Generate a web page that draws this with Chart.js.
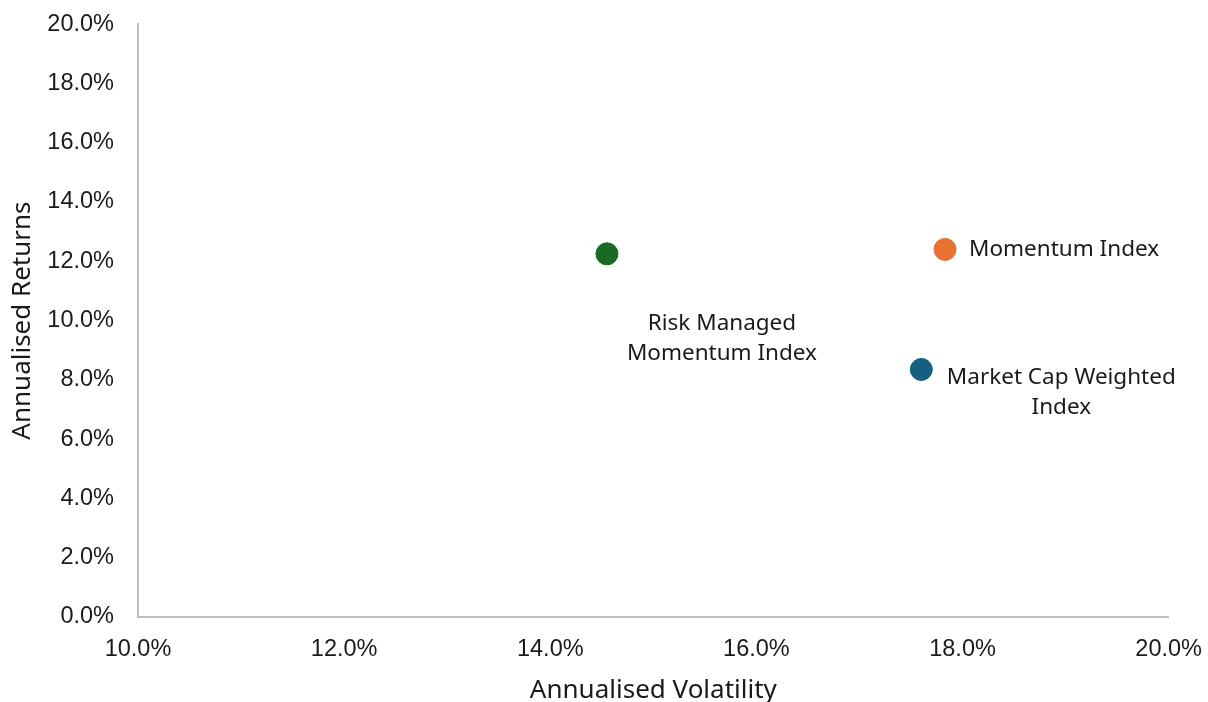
<!DOCTYPE html>
<html>
<head>
<meta charset="utf-8">
<script src="https://cdn.jsdelivr.net/npm/chart.js@4/dist/chart.umd.min.js"></script>
<style>
  html, body { margin: 0; padding: 0; background: #ffffff; overflow: hidden; }
  #wrap { position: relative; width: 1208px; height: 702px; overflow: hidden; }
  #c { position: absolute; left: 0; top: -14px; }
</style>
</head>
<body>
<div id="wrap"><canvas id="c" width="1220" height="716"></canvas></div>
<script>
// Risk / return of the three indices
const seriesNames = ['Risk Managed Momentum Index', 'Momentum Index', 'Market Cap Weighted Index'];
const volatility = [14.55, 17.83, 17.60];   // annualised volatility, %
const returns    = [12.25, 12.40, 8.35];    // annualised returns, %
const labelLines = [['Risk Managed', 'Momentum Index'], ['Momentum Index'], ['Market Cap Weighted', 'Index']];
const colors     = ['#196B24', '#E97132', '#156082'];

const xTicks = [10, 12, 14, 16, 18, 20];
const yTicks = [0, 2, 4, 6, 8, 10, 12, 14, 16, 18, 20];

const labelFont = '22.5px "Noto Sans", "Open Sans", sans-serif';
// where each point's label sits relative to the point: dx, dy of first line, alignment
const labelPlacement = [
  { dx: 115, dy: 70, align: 'center' },
  { dx: 24,  dy: 0,  align: 'left' },
  { dx: 140, dy: 8,  align: 'center' }
];

const pointLabels = {
  id: 'pointLabels',
  afterDatasetsDraw(chart) {
    const ctx = chart.ctx;
    ctx.save();
    ctx.font = labelFont;
    ctx.fillStyle = '#1a1a1a';
    ctx.textBaseline = 'middle';
    chart.data.datasets.forEach((ds, i) => {
      const el = chart.getDatasetMeta(i).data[0];
      const p = labelPlacement[i];
      ctx.textAlign = p.align;
      labelLines[i].forEach((line, k) => {
        ctx.fillText(line, el.x + p.dx, el.y + p.dy + k * 30);
      });
    });
    ctx.restore();
  }
};

const tickFont = { family: '"Liberation Sans", Arial, sans-serif', size: 23.5 };
const titleFont = { family: '"Noto Sans", "Open Sans", sans-serif', size: 26 };

new Chart(document.getElementById('c'), {
  type: 'scatter',
  data: {
    datasets: seriesNames.map((name, i) => ({
      label: name,
      data: [{ x: volatility[i], y: returns[i] }],
      backgroundColor: colors[i],
      borderColor: colors[i],
      pointRadius: 11,
      pointHoverRadius: 11
    }))
  },
  options: {
    responsive: false,
    animation: false,
    layout: { padding: { top: 9, right: 30, left: 0, bottom: 0 } },
    plugins: { legend: { display: false }, tooltip: { enabled: false } },
    scales: {
      x: {
        type: 'linear',
        min: 10, max: 20,
        afterBuildTicks: s => { s.ticks = xTicks.map(v => ({ value: v })); },
        afterFit: s => { s.height = 85; },
        grid: { display: false, drawTicks: false },
        border: { color: '#bfbfbf', width: 2 },
        ticks: {
          padding: 18,
          color: '#1a1a1a',
          font: tickFont,
          maxRotation: 0,
          callback: v => v.toFixed(1) + '%'
        },
        title: {
          display: true,
          text: 'Annualised Volatility',
          color: '#1a1a1a',
          font: titleFont,
          padding: { top: -4, bottom: -4 }
        }
      },
      y: {
        type: 'linear',
        min: 0, max: 20,
        afterBuildTicks: s => { s.ticks = yTicks.map(v => ({ value: v })); },
        afterFit: s => { s.width = 138; },
        grid: { display: false, drawTicks: false },
        border: { color: '#bfbfbf', width: 2 },
        ticks: {
          padding: 24,
          color: '#1a1a1a',
          font: tickFont,
          callback: v => v.toFixed(1) + '%'
        },
        title: {
          display: true,
          text: 'Annualised Returns',
          color: '#1a1a1a',
          font: titleFont,
          padding: { top: 7, bottom: 7 }
        }
      }
    }
  },
  plugins: [pointLabels]
});
</script>
</body>
</html>
